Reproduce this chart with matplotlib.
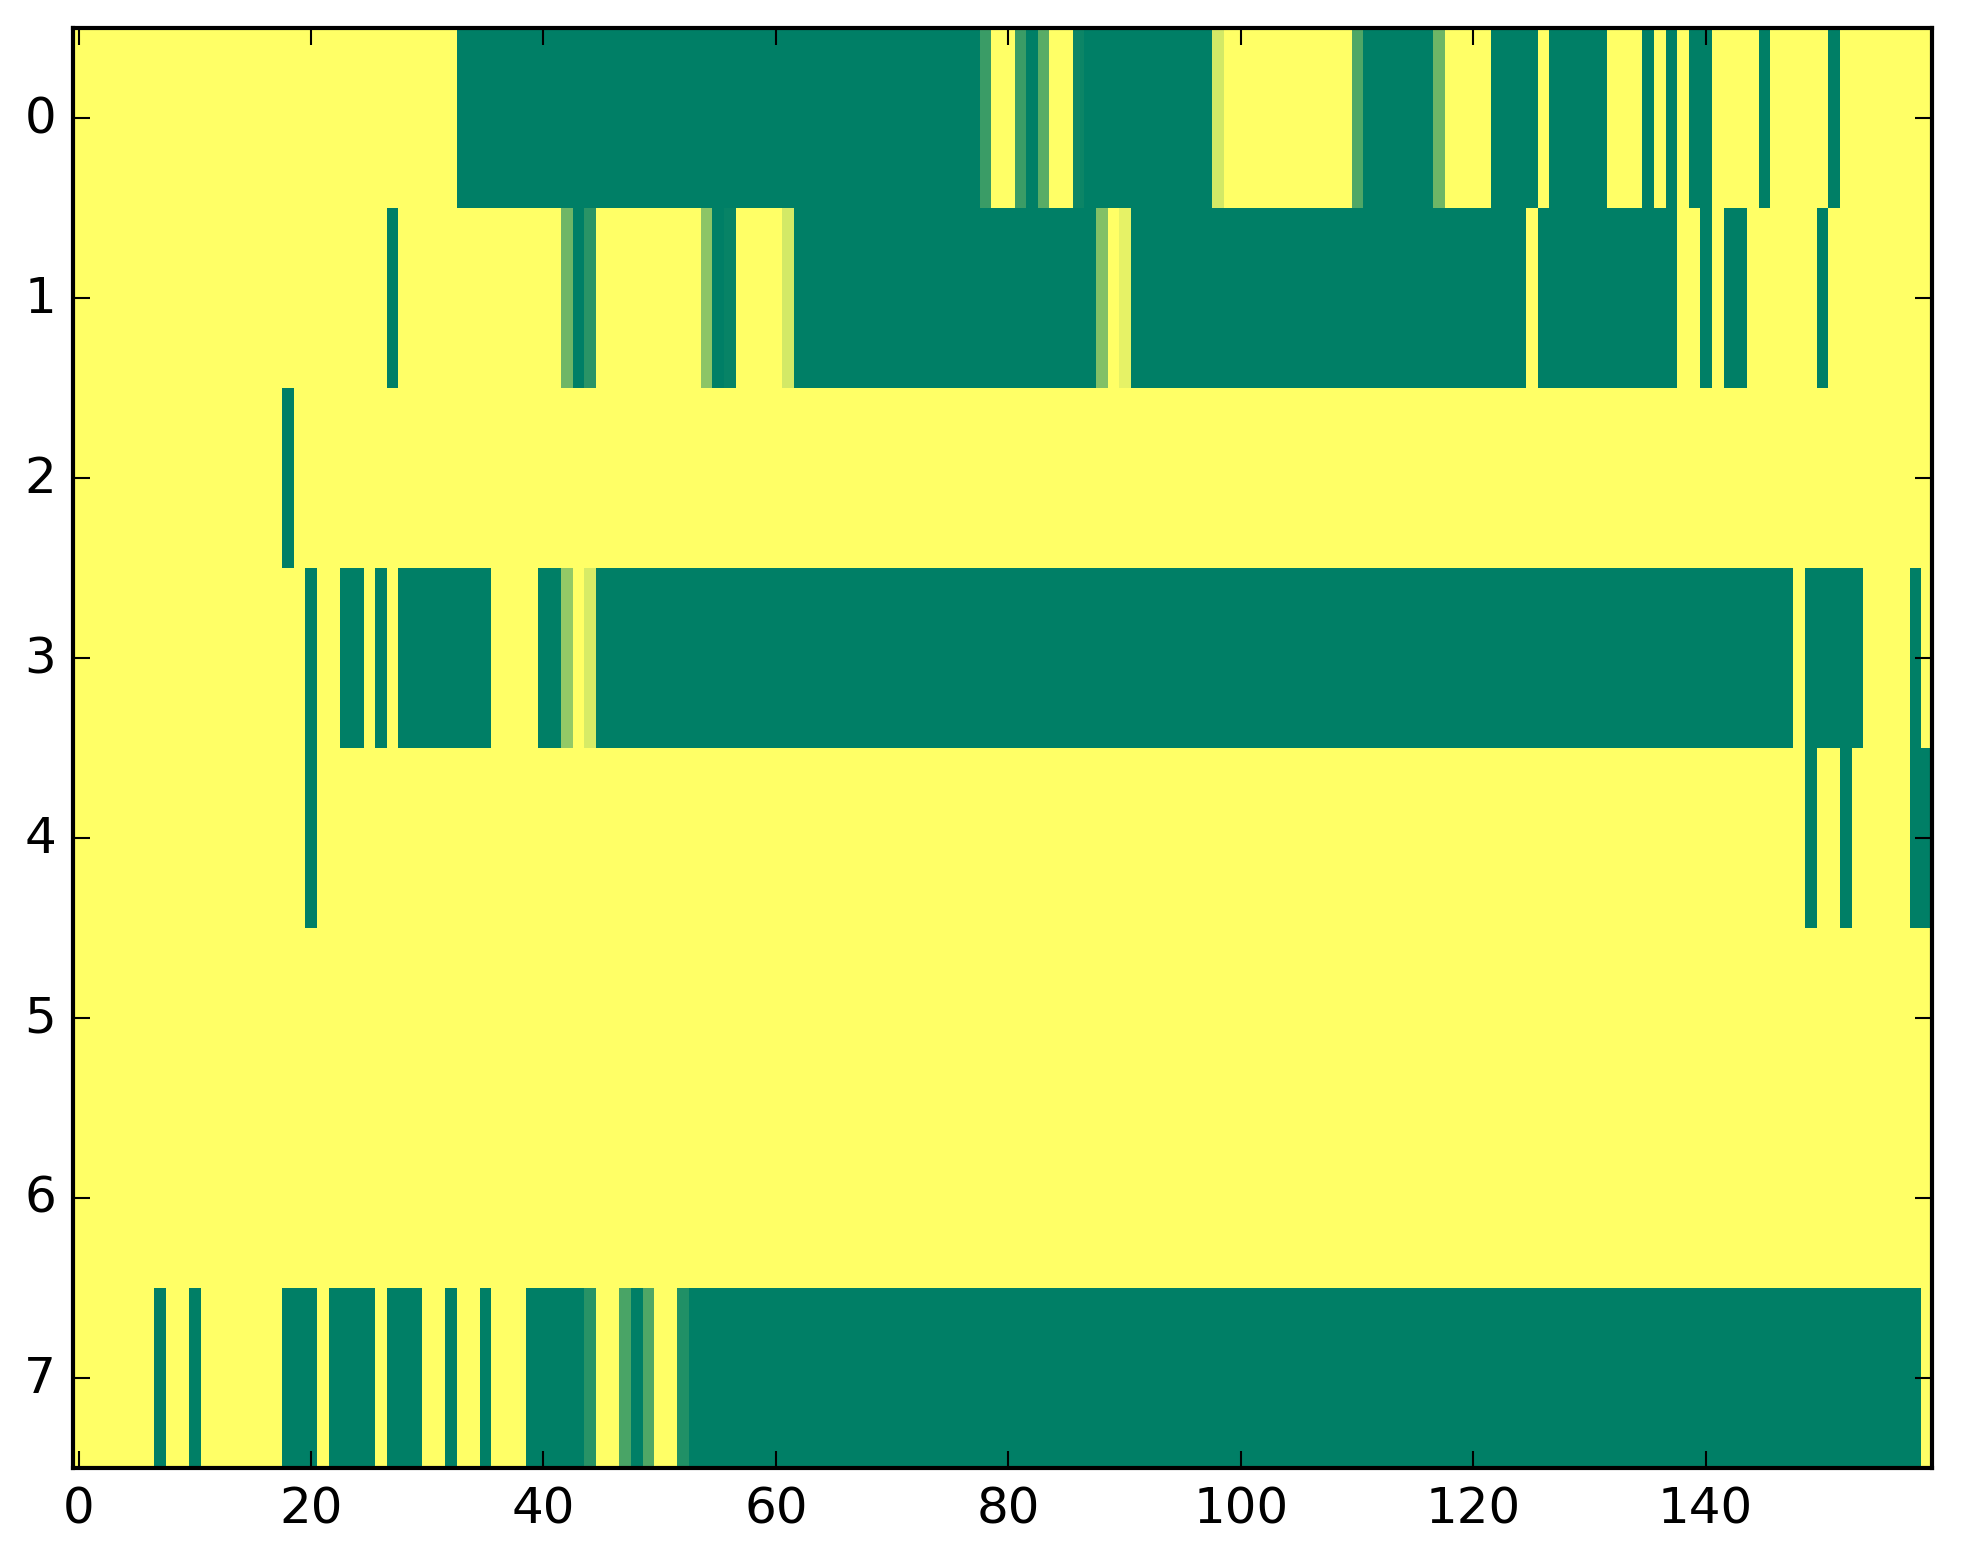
import numpy as np
import matplotlib
matplotlib.use("Agg")
import matplotlib.pyplot as plt

# each row as runs of (value, number of columns), read left to right
# 1 = yellow end of "summer", 0 = green end
row0 = [(1, 33), (0, 45), (0.23, 1), (1, 2), (0.23, 1), (0, 1), (0.35, 1), (1, 2),
        (0.05, 1), (0, 11), (0.83, 1), (1, 11), (0.31, 1), (0, 6), (0.43, 1), (1, 4),
        (0, 4), (1, 1), (0, 5), (1, 3), (0, 1), (1, 1), (0, 1), (1, 1), (0, 2),
        (1, 4), (0, 1), (1, 5), (0, 1), (1, 8)]
row1 = [(1, 27), (0, 1), (1, 14), (0.43, 1), (0, 1), (0.165, 1), (1, 9), (0.55, 1),
        (0, 1), (0.03, 1), (1, 4), (0.83, 1), (0, 26), (0.51, 1), (1, 1), (0.9, 1),
        (0, 34), (1, 1), (0, 12), (1, 2), (0, 1), (1, 1), (0, 2), (1, 6), (0, 1), (1, 9)]
row2 = [(1, 18), (0, 1), (1, 141)]
row3 = [(1, 20), (0, 1), (1, 2), (0, 2), (1, 1), (0, 1), (1, 1), (0, 8), (1, 4),
        (0, 2), (0.58, 1), (1, 1), (0.84, 1), (0, 103), (1, 1), (0, 5), (1, 4),
        (0, 1), (1, 1)]
row4 = [(1, 20), (0, 1), (1, 128), (0, 1), (1, 2), (0, 1), (1, 5), (0, 2)]
row5 = [(1, 160)]
row6 = [(1, 160)]
row7 = [(1, 7), (0, 1), (1, 2), (0, 1), (1, 7), (0, 3), (1, 1), (0, 4), (1, 1),
        (0, 3), (1, 2), (0, 1), (1, 2), (0, 1), (1, 3), (0, 5), (0.16, 1), (1, 2),
        (0.29, 1), (0, 1), (0.31, 1), (1, 2), (0.13, 1), (0, 106), (1, 1)]

rows = [row0, row1, row2, row3, row4, row5, row6, row7]
data = np.array([np.repeat([v for v, n in r], [n for v, n in r]) for r in rows])

plt.style.use("classic")
fig = plt.figure(figsize=(1963 / 300, 1564 / 300), dpi=300, facecolor="white")
ax = fig.add_axes([0.03704, 0.06093, 0.98436 - 0.03704, 0.98114 - 0.06093])

ax.imshow(data, cmap="summer", aspect="auto", interpolation="nearest", vmin=0, vmax=1)
ax.set_yticks(range(8))

fig.savefig("out.png", dpi=300, facecolor="white")
